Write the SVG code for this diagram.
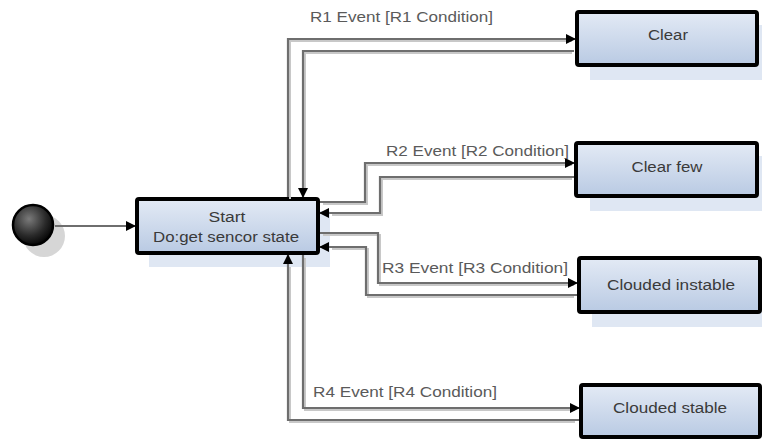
<svg xmlns="http://www.w3.org/2000/svg" width="762" height="443" viewBox="0 0 762 443">
  <defs>
    <linearGradient id="stateFill" x1="0" y1="0" x2="0" y2="1">
      <stop offset="0" stop-color="#e3eaf5"/>
      <stop offset="1" stop-color="#b9cae3"/>
    </linearGradient>
    <radialGradient id="ballFill" cx="0.4" cy="0.35" r="0.7">
      <stop offset="0" stop-color="#7a7a7a"/>
      <stop offset="0.6" stop-color="#2a2a2a"/>
      <stop offset="1" stop-color="#000"/>
    </radialGradient>
    <marker id="arrow" viewBox="0 0 10 10" refX="9" refY="5" markerWidth="10" markerHeight="10" markerUnits="userSpaceOnUse" orient="auto">
      <path d="M0,0 L10,5 L0,10 z" fill="#000"/>
    </marker>
    <filter id="soft" x="-5%" y="-5%" width="110%" height="110%">
      <feGaussianBlur stdDeviation="0.6"/>
    </filter>
  </defs>
  <style>
    .shadow { fill: #dfe7f3; }
    .state { fill: url(#stateFill); stroke: #000; stroke-width: 4; }
    .name { font-family: "Liberation Sans", Arial, sans-serif; font-size: 14px; fill: #3a3a3a; text-anchor: middle; }
    .label { font-family: "Liberation Sans", Arial, sans-serif; font-size: 14px; fill: #5a5a5a; }
    .wire { fill: none; stroke: #6e6e6e; stroke-width: 2.2; }
    .wireShade { fill: none; stroke: #c8c8c8; stroke-width: 2; }
  </style>

  <rect width="762" height="443" fill="#fff"/>

  <!-- initial pseudo-state -->
  <g id="initial">
    <circle cx="44" cy="236" r="21" fill="#d6d6d6"/>
    <circle cx="33" cy="225" r="20" fill="url(#ballFill)" stroke="#000" stroke-width="2.5"/>
  </g>

  <!-- states -->
  <g id="start">
    <rect class="shadow" x="149" y="211" width="181" height="56"/>
    <rect class="state" x="137" y="199" width="181" height="54" rx="2"/>
    <text class="name" x="227" y="222" textLength="37" lengthAdjust="spacingAndGlyphs">Start</text>
    <text class="name" x="226" y="242" textLength="146" lengthAdjust="spacingAndGlyphs">Do:get sencor state</text>
  </g>

  <g id="clear">
    <rect class="shadow" x="590" y="25" width="172" height="55"/>
    <rect class="state" x="577" y="12" width="180" height="53" rx="2"/>
    <text class="name" x="668" y="40" textLength="40" lengthAdjust="spacingAndGlyphs">Clear</text>
  </g>

  <g id="clear-few">
    <rect class="shadow" x="590" y="156" width="172" height="55"/>
    <rect class="state" x="576" y="143" width="181" height="53" rx="2"/>
    <text class="name" x="667" y="172" textLength="71" lengthAdjust="spacingAndGlyphs">Clear few</text>
  </g>

  <g id="clouded-instable">
    <rect class="shadow" x="592" y="271" width="170" height="56"/>
    <rect class="state" x="579" y="258" width="181" height="54" rx="2"/>
    <text class="name" x="671" y="290" textLength="128" lengthAdjust="spacingAndGlyphs">Clouded instable</text>
  </g>

  <g id="clouded-stable">
    <rect class="state" x="581" y="385" width="179" height="52" rx="2"/>
    <text class="name" x="670" y="413" textLength="114" lengthAdjust="spacingAndGlyphs">Clouded stable</text>
  </g>

  <!-- connectors -->
  <g id="connectors" filter="url(#soft)">
    <g transform="translate(2,2)">
      <path class="wireShade" d="M288,197 V39 H570"/>
      <path class="wireShade" d="M570,51 H303 V190"/>
      <path class="wireShade" d="M321,202 H365 V163 H570"/>
      <path class="wireShade" d="M570,177 H380 V213 H330"/>
      <path class="wireShade" d="M321,233 H378 V283 H572"/>
      <path class="wireShade" d="M572,295 H366 V247 H330"/>
      <path class="wireShade" d="M303,256 V408 H573"/>
      <path class="wireShade" d="M573,420 H288 V265"/>
    </g>
    <path class="wire" d="M55,226 H135" stroke="#555" marker-end="url(#arrow)"/>
    <path class="wire" d="M288,197 V39 H575" marker-end="url(#arrow)"/>
    <path class="wire" d="M574,51 H303 V197" marker-end="url(#arrow)"/>
    <path class="wire" d="M320,202 H365 V163 H574" marker-end="url(#arrow)"/>
    <path class="wire" d="M574,177 H380 V213 H320" marker-end="url(#arrow)"/>
    <path class="wire" d="M320,233 H378 V283 H577" marker-end="url(#arrow)"/>
    <path class="wire" d="M577,295 H366 V247 H320" marker-end="url(#arrow)"/>
    <path class="wire" d="M303,255 V408 H579" marker-end="url(#arrow)"/>
    <path class="wire" d="M579,420 H288 V255" marker-end="url(#arrow)"/>
  </g>

  <!-- transition labels -->
  <g id="labels">
    <text class="label" x="310" y="22" textLength="183" lengthAdjust="spacingAndGlyphs">R1 Event [R1 Condition]</text>
    <text class="label" x="386" y="156" textLength="183" lengthAdjust="spacingAndGlyphs">R2 Event [R2 Condition]</text>
    <text class="label" x="382" y="273" textLength="186" lengthAdjust="spacingAndGlyphs">R3 Event [R3 Condition]</text>
    <text class="label" x="313" y="397" textLength="184" lengthAdjust="spacingAndGlyphs">R4 Event [R4 Condition]</text>
  </g>
</svg>
